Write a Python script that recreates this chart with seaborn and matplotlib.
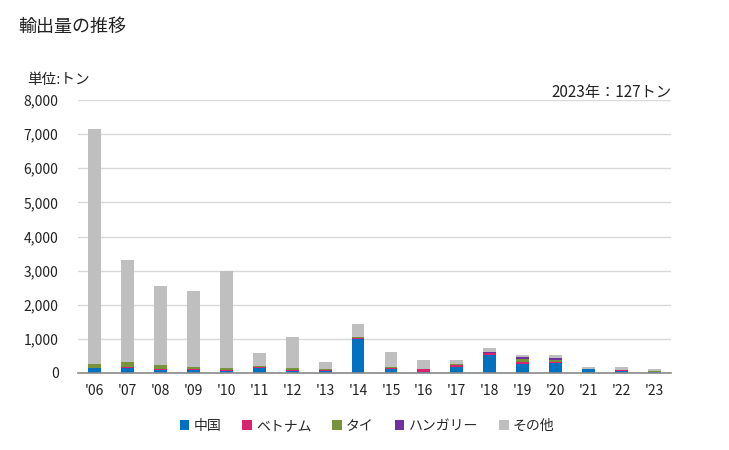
import numpy as np
import pandas as pd
import matplotlib
matplotlib.use("Agg")
import matplotlib.pyplot as plt
import seaborn as sns
from matplotlib.patches import Patch
from matplotlib.ticker import FuncFormatter

years = ["'06", "'07", "'08", "'09", "'10", "'11", "'12", "'13", "'14", "'15",
         "'16", "'17", "'18", "'19", "'20", "'21", "'22", "'23"]
china   = [147, 157, 98, 98, 59, 157, 59, 59, 990, 118, 29, 176, 539, 274, 304, 118, 69, 39]
vietnam = [0, 20, 20, 10, 29, 20, 29, 39, 39, 39, 78, 59, 39, 59, 29, 10, 29, 0]
thai    = [118, 147, 118, 69, 59, 29, 59, 20, 29, 20, 0, 29, 20, 69, 49, 0, 0, 29]
hungary = [0, 0, 0, 0, 0, 0, 0, 0, 0, 0, 10, 0, 20, 69, 59, 0, 0, 0]
total   = [7150, 3320, 2550, 2400, 3000, 590, 1060, 323, 1441, 617,
           382, 382, 735, 529, 529, 176, 176, 127]
other = [t - a - b - c - d for t, a, b, c, d in zip(total, china, vietnam, thai, hungary)]

names = ["中国", "ベトナム", "タイ", "ハンガリー", "その他"]
colors = ["#0070C0", "#D6246E", "#77933C", "#7030A0", "#BFBFBF"]
series = [china, vietnam, thai, hungary, other]

sns.set_theme(style="white")
plt.rcParams['font.family'] = ['Noto Sans CJK JP', 'DejaVu Sans']

fig = plt.figure(figsize=(7.29, 4.5), dpi=100)
ax = fig.add_axes([78/729, 77/450, (671-78)/729, (373-100)/450])

cum = np.cumsum(np.array(series), axis=0)
for i in range(len(series) - 1, -1, -1):
    df = pd.DataFrame({"year": years, "v": cum[i]})
    sns.barplot(data=df, x="year", y="v", color=colors[i], width=0.39,
                saturation=1, ax=ax, linewidth=0, edgecolor="none",
                zorder=2 + (len(series) - i) * 0.01)

ax.set_xlim(-0.5, len(years) - 0.5)
ax.set_ylim(0, 8000)
ax.set_yticks(range(0, 8001, 1000))
ax.yaxis.set_major_formatter(FuncFormatter(lambda v, p: f"{int(v):,}"))
ax.grid(axis="y", color="#D9D9D9", linewidth=1, zorder=0)
ax.set_axisbelow(True)
for s in ["left", "right", "top"]:
    ax.spines[s].set_visible(False)
ax.spines["bottom"].set_color("#898989")
ax.spines["bottom"].set_linewidth(1.2)
ax.set_xlabel("")
ax.set_ylabel("")
ax.tick_params(axis="both", length=0, labelsize=10, colors="#222222")
ax.tick_params(axis="y", pad=14)
ax.tick_params(axis="x", pad=8)

fig.text(18/729, 1 - 27/450, "輸出量の推移", fontsize=13, va="center", ha="left", color="#222222")
fig.text(27/729, 1 - 80/450, "単位:トン", fontsize=10.5, va="center", ha="left", color="#222222")
fig.text(672/729, 1 - 92/450, "2023年：127トン", fontsize=11, va="center", ha="right", color="#222222")

handles = [Patch(facecolor=c, edgecolor="none") for c in colors]
fig.legend(handles, names, loc="center", bbox_to_anchor=(367/729, 1 - 426/450),
           ncol=5, frameon=False, fontsize=10, handlelength=0.7, handleheight=0.7,
           handletextpad=0.3, columnspacing=1.5)

fig.savefig("out.png", dpi=100)
